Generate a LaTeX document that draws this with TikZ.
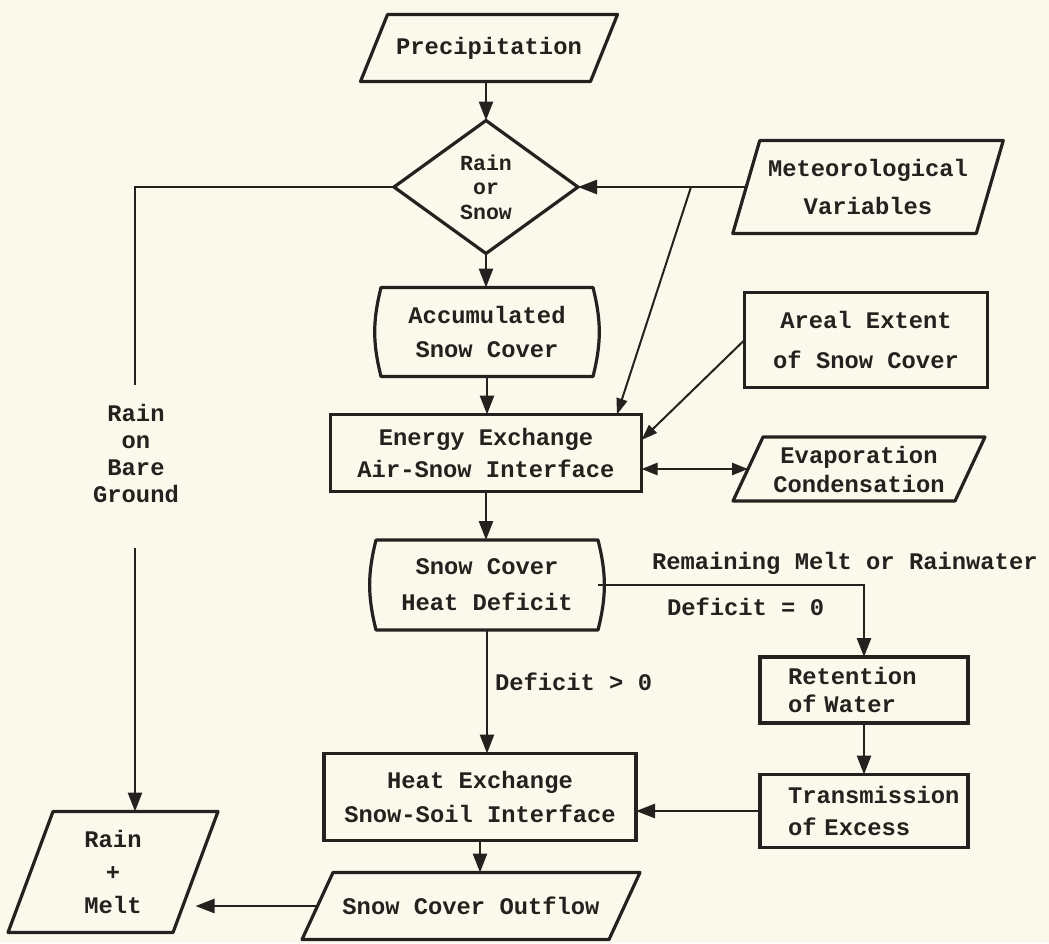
\documentclass[tikz,border=0pt]{standalone}
\usepackage{fontspec}
\setmainfont{Liberation Mono}
\usetikzlibrary{arrows.meta,shapes.geometric}
\definecolor{paper}{RGB}{251,249,236}
\definecolor{ink}{RGB}{38,33,30}
\newcommand\drawpara[2]{\draw[outline] ([xshift=#2pt]#1.north west) -- ([xshift=#2pt]#1.north east) -- ([xshift=-#2pt]#1.south east) -- ([xshift=-#2pt]#1.south west) -- cycle;}
\newcommand\drawbarrel[1]{\draw[outline] (#1.north west) -- (#1.north east) to[bend left=14] (#1.south east) -- (#1.south west) to[bend left=14] (#1.north west) -- cycle;}
\begin{document}
\begin{tikzpicture}[x=1pt,y=-1pt,
  outline/.style={draw=ink, line width=3.2pt, line join=round},
  fnt/.style={font=\fontsize{23.8pt}{#1pt}\selectfont\bfseries},
  base/.style={inner sep=0pt, outer sep=0pt, text=ink, align=center},
  bx/.style={base, draw=ink, line width=3.2pt, minimum width=#1},
  plain/.style={base, minimum width=#1},
  lbl/.style={inner sep=0pt, outer sep=0pt, text=ink, fnt=28},
  conn/.style={draw=ink, line width=2.6pt},
  arr/.style={conn, -{Triangle[length=19pt,width=14pt]}},
  thinarr/.style={draw=ink, line width=2pt, -{Triangle[length=16pt,width=11pt]}}]
\fill[paper] (0,0) rectangle (1049,943);
\useasboundingbox (0,0) rectangle (1049,943);

% nodes
\node[plain=230pt, minimum height=67pt, fnt=30] (prec) at (489,48) {Precipitation};
\drawpara{prec}{13.5}
\node[base, shape=diamond, draw=ink, line width=3.2pt, minimum width=184pt, minimum height=133pt, font=\fontsize{21.5pt}{24.5pt}\selectfont\bfseries] (d) at (486,187) {Rain\\or\\Snow};
\node[plain=212pt, minimum height=89pt, fnt=34] (acc) at (487,332) {Accumulated\\Snow Cover};
\drawbarrel{acc}
\node[bx=311pt, minimum height=77pt, fnt=32] (en) at (486,453) {Energy Exchange\\Air-Snow Interface};
\node[plain=222pt, minimum height=90pt, fnt=36] (hd) at (487,585) {Snow Cover\\Heat Deficit};
\drawbarrel{hd}
\node[bx=312pt, minimum height=87pt, fnt=34] (he) at (480,797) {Heat Exchange\\Snow-Soil Interface};
\node[plain=307pt, minimum height=67pt, fnt=30] (out) at (471,906) {Snow Cover Outflow};
\drawpara{out}{15.5}
\node[plain=165pt, minimum height=121pt, fnt=33] (rm) at (113,872) {Rain\\+\\Melt};
\drawpara{rm}{22.5}
\node[plain=243.5pt, minimum height=93pt, fnt=38] (met) at (868,187) {Meteorological\\Variables};
\drawpara{met}{13.5}
\node[bx=243pt, minimum height=95pt, fnt=40] (ar) at (866,340) {Areal Extent\\of Snow Cover};
\node[plain=222pt, minimum height=64pt, fnt=29] (ev) at (859,469) {Evaporation\\Condensation};
\drawpara{ev}{15}
\node[base, draw=ink, line width=3.2pt, inner xsep=28pt, text width=152pt, align=left, minimum height=66pt, fnt=28] (ret) at (864,690) {Retention\\of Water};
\node[base, draw=ink, line width=3.2pt, inner xsep=28pt, text width=152pt, align=left, minimum height=73pt, fnt=32] (tr) at (864,811) {Transmission\\of Excess};

% labels
\node[lbl, anchor=base west] (lrem) at (652,569) {Remaining Melt or Rainwater};
\node[lbl, anchor=base west] (ldz) at (667,615) {Deficit = 0};
\node[lbl, anchor=base west] (ldp) at (495,690) {Deficit > 0};
\node[base, fnt=27] (lrb) at (136,453) {Rain\\on\\Bare\\Ground};

% connectors
\coordinate (lc1) at (135,385);
\coordinate (lc2) at (135,548);
\coordinate (j1) at (691,187);
\draw[arr] (d.north |- prec.south) -- (d.north);
\draw[arr] (d.south) -- (d.south |- acc.north);
\draw[arr] (acc.south) -- (acc.south |- en.north);
\draw[arr] (en.south) -- (en.south |- hd.north);
\draw[arr] (hd.south) -- (hd.south |- he.north);
\draw[arr] (he.south) -- (he.south |- out.north);
\draw[arr] (out.west) -- (out.west -| rm.east);
\draw[conn] (d.west) -| (lc1);
\draw[arr] (lc2) -- (lc2 |- rm.north);
\draw[arr] (met.west) -- (d.east);
\draw[thinarr] (j1) -- ([xshift=131pt]en.north);
\draw[thinarr] (ar.west) -- ([yshift=13pt]en.east);
\draw[conn, {Triangle[length=16pt,width=12pt]}-{Triangle[length=16pt,width=12pt]}] ([yshift=-16pt]en.east) -- (ev.west);
\draw[arr] (hd.east) -| (ret.north);
\draw[arr] (ret.south) -- (tr.north);
\draw[arr] (tr.west) -- (tr.west -| he.east);
\end{tikzpicture}
\end{document}
